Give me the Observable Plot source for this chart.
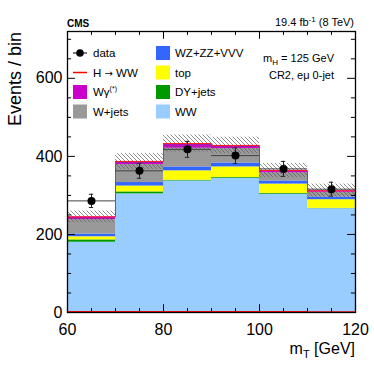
<!DOCTYPE html>
<html>
<head>
<meta charset="utf-8">
<script src="https://cdn.jsdelivr.net/npm/d3@7"></script>
<script src="https://cdn.jsdelivr.net/npm/@observablehq/plot@0.6"></script>
<style>
  html, body { margin: 0; padding: 0; background: #fff; }
  #chart { width: 374px; height: 392px; }
</style>
</head>
<body>
<div id="chart"></div>
<script>
// ---- data ----
const binLo = [60, 70, 80, 90, 100, 110];
const binWidth = 10;
const seriesNames = ["WW", "DY+jets", "top", "WZ+ZZ+VVV", "W+jets", "Wγ(*)"];
const WW     = [180, 304, 337, 344, 303, 266];
const DYjets = [6, 5, 2, 2, 2, 1];
const topBkg = [8, 15, 24, 27, 24, 22];
const WZZZVVV = [7, 9, 10, 10, 8, 7];
const Wjets  = [37, 46, 48, 37, 21, 12];
const Wgamma = [7, 8, 12, 8, 6, 4];
const HtoWW  = [2, 2, 2, 2, 2, 1];
const dataCounts = [286, 363, 418, 402, 368, 316];
const systUnc = [15, 20, 22, 21, 18, 17];
const xMajorTicks = [60, 80, 100, 120];
const xMinorTicks = [65, 70, 75, 85, 90, 95, 105, 110, 115];
const yMajorTicks = [0, 200, 400, 600];
const yMinorTicks = [50, 100, 150, 250, 300, 350, 450, 500, 550, 650, 700];

const seriesValues = [WW, DYjets, topBkg, WZZZVVV, Wjets, Wgamma];
const seriesColors = ["#99ccff", "#009900", "#ffff00", "#3366ff", "#999999", "#cc00cc"];

// ---- build tables ----
const rows = [];
const totals = [];
binLo.forEach((lo, i) => {
  let cum = 0;
  seriesNames.forEach((name, s) => {
    const v = seriesValues[s][i];
    rows.push({x1: lo, x2: lo + binWidth, y1: cum, y2: cum + v, s: name});
    cum += v;
  });
  totals.push(cum);
});
const stepPts = (vals) => binLo.map((lo, i) => ({x: lo, y: vals[i]}))
  .concat([{x: binLo[binLo.length - 1] + binWidth, y: vals[vals.length - 1]}]);
const uncRows = binLo.map((lo, i) => ({x1: lo, x2: lo + binWidth, y1: totals[i] - systUnc[i], y2: totals[i] + systUnc[i]}));
const dataRows = binLo.map((lo, i) => ({lo, hi: lo + binWidth, c: lo + binWidth / 2, n: dataCounts[i], e: Math.sqrt(dataCounts[i])}));

const YMAX = 720;
const yMajLen = 20, yMinLen = 10;     // tick lengths along y (data units)
const xMajLen = 1.65, xMinLen = 0.85;  // tick lengths along x (data units)

const svg = Plot.plot({
  width: 374,
  height: 392,
  marginLeft: 67,
  marginRight: 19,
  marginTop: 31,
  marginBottom: 80,
  style: {fontFamily: "'Liberation Sans', Arial, sans-serif", fontSize: "16px", background: "white", color: "black"},
  x: {domain: [60, 120], ticks: xMajorTicks, tickSize: 0, tickPadding: 11, label: null},
  y: {domain: [0, YMAX], ticks: yMajorTicks, tickSize: 0, tickPadding: 5, label: null},
  color: {domain: seriesNames, range: seriesColors},
  marks: [
    Plot.rect(rows, {x1: "x1", x2: "x2", y1: "y1", y2: "y2", fill: "s"}),
    Plot.rect(uncRows, {x1: "x1", x2: "x2", y1: "y1", y2: "y2", fill: "url(#hatch)"}),
    Plot.line(stepPts(totals), {x: "x", y: "y", curve: "step-after", stroke: "#ff2020", strokeWidth: 1}),
    Plot.line(stepPts(HtoWW), {x: "x", y: "y", curve: "step-after", stroke: "#ff0000", strokeWidth: 1.6}),
    // data
    Plot.ruleY(dataRows, {y: "n", x1: "lo", x2: "hi", stroke: "#444", strokeWidth: 1}),
    Plot.ruleX(dataRows, {x: "c", y1: d => d.n - d.e, y2: d => d.n + d.e, stroke: "#222", strokeWidth: 1}),
    Plot.ruleY(dataRows, {y: d => d.n - d.e, x1: d => d.c - 0.45, x2: d => d.c + 0.45, stroke: "#222", strokeWidth: 1}),
    Plot.ruleY(dataRows, {y: d => d.n + d.e, x1: d => d.c - 0.45, x2: d => d.c + 0.45, stroke: "#222", strokeWidth: 1}),
    Plot.dot(dataRows, {x: "c", y: "n", r: 4, fill: "black"}),
    // inward ticks
    Plot.ruleX(xMajorTicks, {x: d => d, y1: () => 0, y2: () => yMajLen, stroke: "black"}),
    Plot.ruleX(xMinorTicks, {x: d => d, y1: () => 0, y2: () => yMinLen, stroke: "black"}),
    Plot.ruleX(xMajorTicks, {x: d => d, y1: () => YMAX, y2: () => YMAX - yMajLen, stroke: "black"}),
    Plot.ruleX(xMinorTicks, {x: d => d, y1: () => YMAX, y2: () => YMAX - yMinLen, stroke: "black"}),
    Plot.ruleY(yMajorTicks, {y: d => d, x1: () => 60, x2: () => 60 + xMajLen, stroke: "black"}),
    Plot.ruleY(yMinorTicks, {y: d => d, x1: () => 60, x2: () => 60 + xMinLen, stroke: "black"}),
    Plot.ruleY(yMajorTicks, {y: d => d, x1: () => 120, x2: () => 120 - xMajLen, stroke: "black"}),
    Plot.ruleY(yMinorTicks, {y: d => d, x1: () => 120, x2: () => 120 - xMinLen, stroke: "black"}),
    Plot.frame({stroke: "black", strokeWidth: 1.3})
  ]
});

const root = d3.select(svg);
const defs = root.insert("defs", ":first-child");
const pat = defs.append("pattern").attr("id", "hatch").attr("patternUnits", "userSpaceOnUse")
  .attr("width", 4).attr("height", 4);
pat.append("path").attr("d", "M-1,-1 L5,5 M-1,3 L1,5 M3,-1 L5,1")
  .attr("stroke", "#555").attr("stroke-width", 0.65).attr("fill", "none");

const font = "'Liberation Sans', Arial, sans-serif";
const g = root.append("g").attr("font-family", font).attr("fill", "black").attr("text-anchor", "start");

// header texts
g.append("text").attr("x", 67).attr("y", 26.5).attr("font-size", 10).attr("font-weight", "bold").text("CMS");
const lumi = g.append("text").attr("x", 354).attr("y", 26).attr("font-size", 11).attr("text-anchor", "end");
lumi.append("tspan").text("19.4 fb");
lumi.append("tspan").attr("dy", -4).attr("font-size", 8).text("-1");
lumi.append("tspan").attr("dy", 4).text(" (8 TeV)");

// axis titles
g.append("text").attr("transform", "translate(21,32) rotate(-90)").attr("text-anchor", "end")
  .attr("font-size", 18).text("Events / bin");
const xt = g.append("text").attr("x", 355).attr("y", 354).attr("text-anchor", "end").attr("font-size", 16);
xt.append("tspan").text("m");
xt.append("tspan").attr("dy", 4).attr("font-size", 11).text("T");
xt.append("tspan").attr("dy", -4).text(" [GeV]");

// annotation
const mh = g.append("text").attr("x", 334).attr("y", 61.5).attr("text-anchor", "end").attr("font-size", 11);
mh.append("tspan").text("m");
mh.append("tspan").attr("dy", 3).attr("font-size", 8).text("H");
mh.append("tspan").attr("dy", -3).text(" = 125 GeV");
g.append("text").attr("x", 334).attr("y", 78.5).attr("text-anchor", "end").attr("font-size", 11).text("CR2, eμ 0-jet");

// legend
const rowY = [53, 72.5, 92, 111.5];
const lfs = 11.5;
// column 1
g.append("line").attr("x1", 73).attr("x2", 87).attr("y1", rowY[0]).attr("y2", rowY[0]).attr("stroke", "black");
g.append("circle").attr("cx", 80).attr("cy", rowY[0]).attr("r", 3.8).attr("fill", "black");
g.append("text").attr("x", 93).attr("y", rowY[0] + 4).attr("font-size", lfs).text("data");
g.append("line").attr("x1", 73).attr("x2", 87).attr("y1", rowY[1]).attr("y2", rowY[1]).attr("stroke", "#ff0000").attr("stroke-width", 1.5);
const hw = g.append("text").attr("x", 93).attr("y", rowY[1] + 4).attr("font-size", lfs);
hw.append("tspan").text("H ");
hw.append("tspan").attr("font-family", "'DejaVu Sans', sans-serif").attr("font-size", 10).text("→");
hw.append("tspan").text(" WW");
g.append("rect").attr("x", 73).attr("y", rowY[2] - 7).attr("width", 14).attr("height", 14).attr("fill", seriesColors[5]);
const wg = g.append("text").attr("x", 93).attr("y", rowY[2] + 4).attr("font-size", lfs);
wg.append("tspan").text("Wγ");
wg.append("tspan").attr("dy", -5).attr("font-size", 7).text("(*)");
g.append("rect").attr("x", 73).attr("y", rowY[3] - 7).attr("width", 14).attr("height", 14).attr("fill", seriesColors[4]);
g.append("text").attr("x", 93).attr("y", rowY[3] + 4).attr("font-size", lfs).text("W+jets");
// column 2
const col2 = [[3, "WZ+ZZ+VVV"], [2, "top"], [1, "DY+jets"], [0, "WW"]];
col2.forEach(([si, label], k) => {
  g.append("rect").attr("x", 156).attr("y", rowY[k] - 7).attr("width", 14).attr("height", 14).attr("fill", seriesColors[si]);
  g.append("text").attr("x", 175).attr("y", rowY[k] + 4).attr("font-size", lfs).text(label);
});

document.getElementById("chart").appendChild(svg);
</script>
</body>
</html>
